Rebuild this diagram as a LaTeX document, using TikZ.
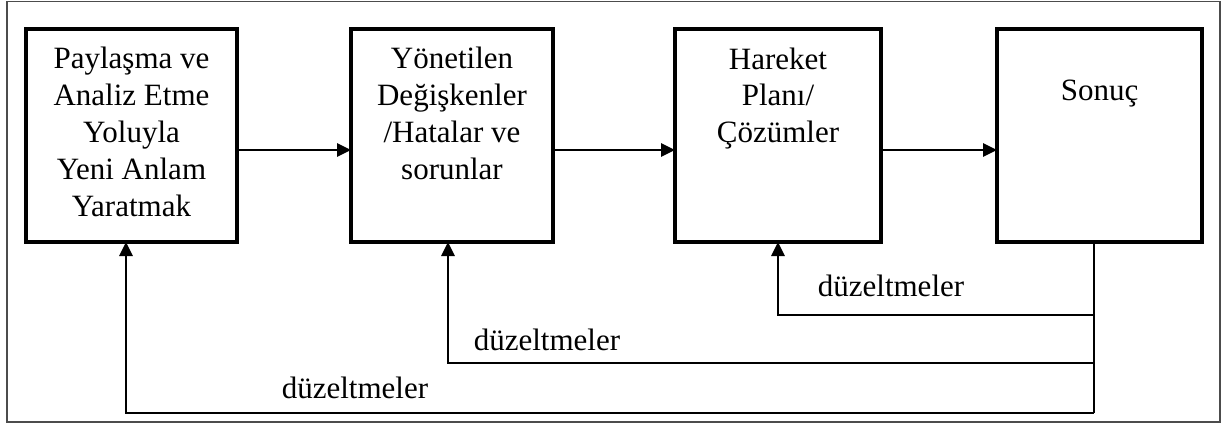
\documentclass[tikz,border=0pt]{standalone}
\usepackage{fontspec}
\setmainfont{Liberation Serif}
\usetikzlibrary{arrows.meta}
\newcommand{\boxtext}[4]{\parbox[c][#2pt][t]{#1pt}{\centering\fontsize{31}{36.9}\selectfont\rule{0pt}{#3pt}#4\par}}
\begin{document}
\begin{tikzpicture}[x=1pt,y=-1pt,
  stage/.style={draw=black,line width=3.2pt,rectangle,inner sep=0pt,outer sep=0pt},
  flow/.style={line width=2.8pt,-{Triangle[length=14pt,width=13pt]}},
  fb/.style={line width=2.8pt},
  fbarrow/.style={line width=2.8pt,-{Triangle[length=14pt,width=13pt]}},
  lbl/.style={inner sep=0pt,anchor=base,font=\fontsize{31}{36}\selectfont}]
\useasboundingbox (0,0) rectangle (1230,425);
\draw[line width=1.5pt,draw=black!70] (7,1.5) rectangle (1220,422);
\node[stage] (b1) at (131.5,135.5) {\boxtext{211}{213}{39.5}{Paylaşma ve\\Analiz Etme\\Yoluyla\\Yeni Anlam\\Yaratmak}};
\node[stage] (b2) at (452,135.5) {\boxtext{202}{213}{39.5}{Yönetilen\\Değişkenler\\/Hatalar ve\\sorunlar}};
\node[stage] (b3) at (778,135.5) {\boxtext{206}{213}{40}{Hareket\\Planı/\\Çözümler}};
\node[stage] (b4) at (1099.5,135.5) {\boxtext{205}{213}{72}{Sonuç}};
\draw[flow] (b1.east |- 0,150) -- (b2.west |- 0,150);
\draw[flow] (b2.east |- 0,150) -- (b3.west |- 0,150);
\draw[flow] (b3.east |- 0,150) -- (b4.west |- 0,150);
\coordinate (f3) at (1094,315);
\coordinate (f2) at (1094,363);
\coordinate (f1) at (1094,413);
\draw[fb] (b4.south -| f1) -- (f1);
\draw[fbarrow] (f3) -| (b3.south);
\draw[fbarrow] (f2) -| ([xshift=-4pt]b2.south);
\draw[fbarrow] (f1) -| ([xshift=-5.5pt]b1.south);
\node[lbl] (l3) at (891,296) {düzeltmeler};
\node[lbl] (l2) at (547,350) {düzeltmeler};
\node[lbl] (l1) at (355,398) {düzeltmeler};
\end{tikzpicture}
\end{document}
